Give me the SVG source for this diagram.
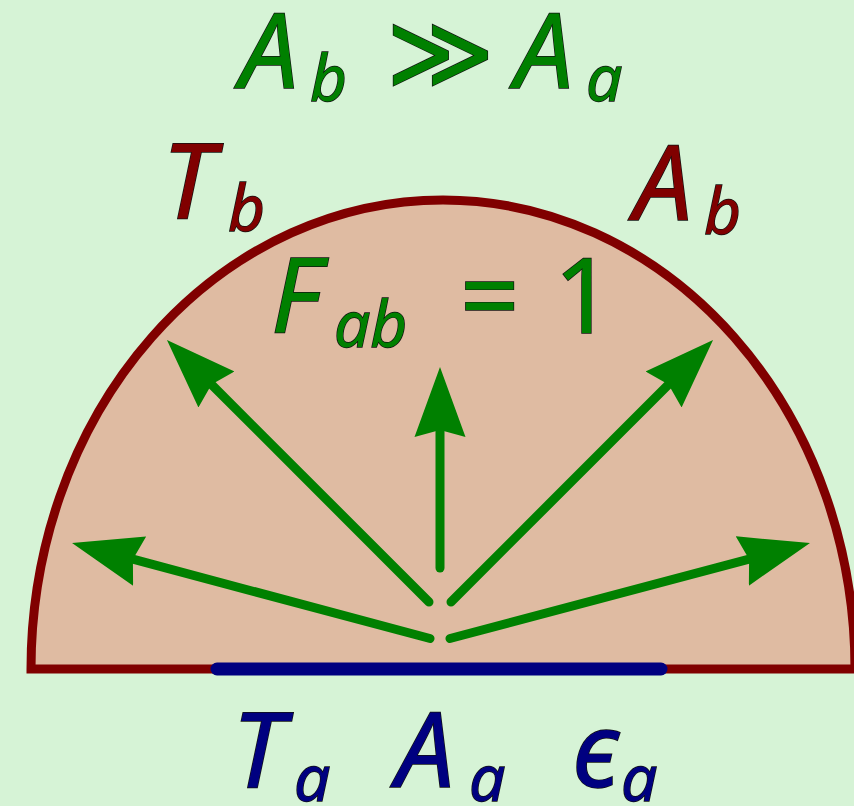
<svg xmlns="http://www.w3.org/2000/svg" width="854" height="806" viewBox="0 0 854 806">
  <style>
    .t { font-family: "Noto Sans", "DejaVu Sans", sans-serif; font-style: italic; stroke: #111; stroke-width: 1.4; paint-order: stroke; }
    .up { font-style: normal; }
    .big { font-size: 104px; }
    .sub { font-size: 64px; }
    .g { fill: #008000; }
    .r { fill: #800000; }
    .b { fill: #000080; }
    .ray { stroke: #008000; stroke-width: 9; stroke-linecap: round; fill: none; marker-end: url(#head); }
  </style>
  <defs>
    <marker id="head" markerUnits="userSpaceOnUse" viewBox="0 -26 70 52" markerWidth="70" markerHeight="52" refX="7" refY="0" orient="auto">
      <path d="M70,0 L0,-25.5 L7,0 L0,25.5 Z" fill="#008000"/>
    </marker>
  </defs>
  <rect width="854" height="806" fill="#d6f3d6"/>

  <g id="hemisphere">
    <path d="M31,669 A412,469 0 0 1 855,669 Z" fill="#dfbba2" stroke="#800000" stroke-width="9" stroke-linejoin="miter"/>
  </g>
  <g id="surface-a">
    <line x1="217" y1="669" x2="661" y2="669" stroke="#000080" stroke-width="13" stroke-linecap="round"/>
  </g>

  <g id="connectors">
    <line class="ray" x1="430" y1="638.5" x2="132.9" y2="559.2"/>
    <line class="ray" x1="429" y1="602" x2="211.5" y2="384.5"/>
    <line class="ray" x1="440" y1="568" x2="440" y2="430"/>
    <line class="ray" x1="451" y1="602" x2="668.5" y2="384.5"/>
    <line class="ray" x1="450" y1="638.5" x2="749.1" y2="559.2"/>
  </g>

  <g id="label-top">
    <text class="t g big" x="240" y="88">A</text>
    <text class="t g sub" x="310" y="101">b</text>
    <text class="t g big up" x="386" y="88">≫</text>
    <text class="t g big" x="515" y="88">A</text>
    <text class="t g sub" x="586" y="101">a</text>
  </g>
  <g id="label-Tb">
    <text class="t r big" x="162" y="218">T</text>
    <text class="t r sub" x="228" y="231">b</text>
  </g>
  <g id="label-Ab">
    <text class="t r big" x="634" y="220">A</text>
    <text class="t r sub" x="704" y="234">b</text>
  </g>
  <g id="label-Fab">
    <text class="t g big" x="271" y="333">F</text>
    <text class="t g sub" x="334" y="347">ab</text>
    <text class="t g big up" x="460" y="333">=</text>
    <text class="t g big up" x="554" y="333">1</text>
  </g>
  <g id="label-bottom">
    <text class="t b big" x="232" y="787">T</text>
    <text class="t b sub" x="294" y="801">a</text>
    <text class="t b big" x="396" y="787">A</text>
    <text class="t b sub" x="469" y="801">a</text>
    <text class="t b big" x="572" y="787">ϵ</text>
    <text class="t b sub" x="621" y="801">a</text>
  </g>
</svg>
